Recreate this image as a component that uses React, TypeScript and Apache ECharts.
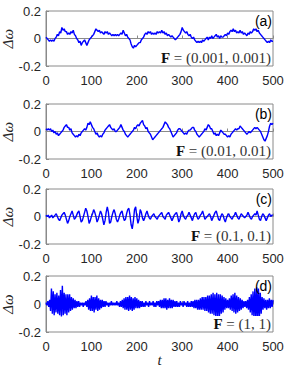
import React, { useEffect, useRef } from "react";
import * as echarts from "echarts";

// time step of the sampled traces
const STEP_ABC = 2.5;
const STEP_D = 2;

const xTicks = [0, 100, 200, 300, 400, 500];
const yTicks = [-0.2, 0, 0.2];
const panelTags = ["(a)", "(b)", "(c)", "(d)"];
const forceLabels = ["(0.001, 0.001)", "(0.01, 0.01)", "(0.1, 0.1)", "(1, 1)"];

const seriesA = [
  0.01, 0.0, -0.01, -0.02, -0.01, -0.02, -0.01, -0.02, 0.0, 0.01,
  0.03, 0.02, 0.05, 0.04, 0.08, 0.06, 0.07, 0.05, 0.05, 0.03,
  0.04, 0.03, 0.05, 0.04, 0.06, 0.03, 0.02, 0.0, -0.01, -0.03,
  -0.02, -0.05, -0.03, -0.02, -0.01, -0.03, -0.05, -0.03, -0.01, 0.0,
  0.01, 0.02, 0.03, 0.05, 0.07, 0.06, 0.05, 0.06, 0.04, 0.05,
  0.04, 0.03, 0.05, 0.04, 0.05, 0.03, 0.04, 0.03, 0.02, 0.03,
  0.02, 0.03, 0.02, 0.03, 0.02, 0.03, 0.04, 0.03, 0.06, 0.04,
  0.02, 0.03, 0.01, 0.0, -0.01, -0.04, -0.06, -0.07, -0.05, -0.06,
  -0.05, -0.04, -0.03, -0.03, -0.01, 0.0, 0.01, 0.03, 0.04, 0.03,
  0.05, 0.04, 0.05, 0.03, 0.04, 0.03, 0.04, 0.03, 0.05, 0.04,
  0.05, 0.04, 0.06, 0.04, 0.05, 0.03, 0.04, 0.02, 0.03, 0.02,
  0.01, 0.02, 0.01, 0.0, -0.01, 0.0, 0.01, 0.02, 0.03, 0.05,
  0.08, 0.06, 0.05, 0.04, 0.05, 0.03, 0.02, 0.03, 0.01, 0.0,
  0.01, -0.01, -0.02, -0.03, -0.02, -0.03, -0.02, -0.03, -0.01, -0.02,
  -0.01, 0.0, 0.01, -0.01, 0.01, 0.0, 0.02, 0.0, 0.01, 0.02,
  0.03, 0.01, 0.02, 0.0, 0.02, 0.01, 0.01, 0.02, 0.03, 0.02,
  0.04, 0.03, 0.05, 0.06, 0.05, 0.07, 0.05, 0.06, 0.04, 0.05,
  0.04, 0.06, 0.04, 0.05, 0.03, 0.04, 0.03, 0.02, 0.04, 0.03,
  0.05, 0.04, 0.05, 0.07, 0.06, 0.07, 0.05, 0.06, 0.04, 0.03,
  0.02, 0.01, 0.0, -0.01, -0.02, -0.03, -0.02, -0.03, -0.01, -0.02,
  -0.02,
];

const seriesB = [
  0.02, 0.01, 0.02, 0.01, 0.02, 0.0, 0.01, -0.01, 0.0, -0.02,
  -0.01, -0.03, -0.02, -0.01, 0.0, 0.01, 0.03, 0.04, 0.05, 0.03,
  0.03, 0.01, 0.02, -0.01, -0.02, -0.03, -0.04, -0.03, -0.04, -0.02,
  -0.03, -0.01, 0.0, 0.01, 0.02, 0.01, 0.03, 0.06, 0.05, 0.07,
  0.05, 0.03, 0.02, 0.0, -0.02, -0.01, -0.03, -0.04, -0.03, -0.04,
  -0.02, -0.01, 0.01, 0.02, 0.03, 0.04, 0.05, 0.03, 0.02, 0.01,
  0.02, 0.0, 0.0, 0.01, 0.02, 0.03, 0.05, 0.03, 0.01, 0.0,
  -0.02, -0.03, -0.04, -0.03, -0.02, -0.01, 0.0, 0.01, 0.03, 0.02,
  0.04, 0.05, 0.04, 0.06, 0.07, 0.08, 0.05, 0.04, 0.02, 0.03,
  0.0, -0.01, -0.02, -0.04, -0.06, -0.05, -0.04, -0.03, -0.02, -0.01,
  0.0, 0.01, 0.02, 0.03, 0.05, 0.07, 0.06, 0.05, 0.03, 0.02,
  0.0, -0.02, -0.04, -0.03, -0.02, -0.01, 0.01, 0.02, 0.02, 0.01,
  0.0, -0.01, -0.02, -0.01, -0.02, 0.0, 0.01, 0.01, 0.02, 0.03,
  0.03, 0.01, 0.0, -0.02, -0.03, -0.04, -0.03, -0.02, -0.01, 0.0,
  0.02, 0.01, 0.03, 0.05, 0.04, 0.02, 0.02, 0.0, -0.02, -0.01,
  -0.03, -0.02, -0.03, -0.01, 0.01, 0.0, -0.01, -0.02, -0.02, -0.03,
  -0.04, -0.03, -0.04, -0.02, -0.01, 0.0, 0.01, 0.02, 0.01, 0.02,
  0.02, 0.04, 0.03, 0.02, 0.01, 0.0, -0.01, -0.02, -0.01, 0.0,
  -0.01, 0.0, 0.01, 0.02, 0.03, 0.02, 0.03, 0.02, 0.01, 0.0,
  -0.02, -0.04, -0.06, -0.07, -0.05, -0.03, 0.0, 0.04, 0.06, 0.05,
  0.06,
];

const seriesC = [
  0.01, 0.0, 0.01, -0.01, 0.0, 0.01, -0.01, 0.0, 0.01, 0.02,
  0.0, -0.02, -0.03, -0.01, 0.01, 0.02, 0.03, 0.01, -0.02, -0.05,
  -0.03, 0.0, 0.02, 0.04, 0.01, -0.02, -0.01, 0.01, 0.03, 0.04,
  0.0, -0.04, -0.03, 0.0, 0.03, 0.06, 0.04, 0.0, -0.05, -0.03,
  0.0, 0.02, 0.05, 0.03, 0.0, -0.04, -0.02, 0.01, 0.04, 0.02,
  -0.02, -0.06, -0.03, 0.03, 0.07, 0.03, -0.05, -0.04, 0.0, 0.03,
  0.05, 0.02, -0.02, -0.04, -0.02, 0.01, 0.03, 0.04, 0.0, -0.03,
  -0.02, 0.02, 0.05, 0.06, 0.01, -0.06, -0.09, -0.03, 0.05, 0.07,
  0.0, -0.05, -0.02, 0.05, 0.03, -0.01, -0.03, -0.01, 0.02, 0.04,
  0.01, -0.01, -0.02, 0.0, 0.01, 0.02, 0.0, -0.01, -0.02, 0.0,
  0.01, 0.02, 0.03, 0.0, -0.01, -0.02, 0.01, 0.02, 0.03, 0.01,
  -0.01, -0.03, -0.01, 0.01, 0.02, 0.03, 0.0, -0.04, -0.02, 0.02,
  0.04, 0.01, -0.01, -0.02, 0.0, 0.01, 0.03, 0.01, -0.01, -0.03,
  0.0, 0.02, 0.03, 0.0, -0.02, -0.01, 0.01, 0.02, 0.04, 0.01,
  -0.02, -0.01, 0.0, 0.01, 0.02, 0.0, -0.03, -0.01, 0.01, 0.03,
  0.04, 0.01, -0.02, -0.03, 0.0, 0.02, 0.01, -0.02, -0.04, -0.01,
  0.01, 0.02, 0.0, -0.01, -0.02, 0.0, 0.01, 0.03, 0.01, -0.01,
  -0.02, 0.0, 0.02, 0.01, 0.0, -0.01, 0.0, 0.01, 0.03, 0.01,
  -0.01, -0.02, 0.0, 0.01, 0.02, 0.01, 0.04, 0.01, -0.02, -0.03,
  0.0, 0.02, 0.01, -0.01, -0.03, -0.01, 0.01, 0.02, 0.0, 0.01,
  0.01,
];

const seriesD = [
  0.01, -0.01, 0.02, -0.02, 0.03, -0.05, 0.11, -0.07, 0.09, -0.08,
  0.07, -0.06, 0.08, -0.07, 0.06, -0.08, 0.1, -0.09, 0.13, -0.08,
  0.08, -0.07, 0.07, -0.08, 0.07, -0.06, 0.07, -0.05, 0.05, -0.04,
  0.04, -0.03, 0.03, -0.03, 0.02, -0.02, 0.02, -0.02, 0.01, -0.01,
  0.01, -0.02, 0.01, -0.01, 0.02, -0.02, 0.03, -0.04, 0.04, -0.05,
  0.06, -0.05, 0.05, -0.06, 0.05, -0.04, 0.06, -0.05, 0.04, -0.04,
  0.03, -0.03, 0.03, -0.02, 0.02, -0.02, 0.02, -0.01, 0.01, -0.02,
  0.01, -0.01, 0.02, -0.01, 0.01, -0.01, 0.01, -0.01, 0.02, -0.01,
  0.01, -0.02, 0.02, -0.02, 0.03, -0.03, 0.04, -0.04, 0.05, -0.04,
  0.05, -0.05, 0.06, -0.04, 0.05, -0.05, 0.04, -0.04, 0.05, -0.03,
  0.04, -0.03, 0.03, -0.03, 0.02, -0.02, 0.02, -0.02, 0.01, -0.02,
  0.02, -0.01, 0.01, -0.02, 0.02, -0.01, 0.01, -0.01, 0.02, -0.02,
  0.01, -0.02, 0.02, -0.01, 0.02, -0.02, 0.03, -0.03, 0.03, -0.03,
  0.04, -0.03, 0.04, -0.04, 0.03, -0.03, 0.04, -0.03, 0.03, -0.03,
  0.03, -0.02, 0.02, -0.02, 0.02, -0.02, 0.01, -0.02, 0.02, -0.01,
  0.01, -0.02, 0.02, -0.01, 0.01, -0.02, 0.02, -0.02, 0.01, -0.02,
  0.02, -0.02, 0.02, -0.03, 0.03, -0.03, 0.03, -0.04, 0.03, -0.04,
  0.04, -0.04, 0.05, -0.04, 0.05, -0.05, 0.05, -0.05, 0.06, -0.06,
  0.06, -0.07, 0.07, -0.07, 0.08, -0.08, 0.07, -0.09, 0.08, -0.1,
  0.07, -0.09, 0.07, -0.07, 0.06, -0.06, 0.05, -0.04, 0.04, -0.03,
  0.03, -0.03, 0.04, -0.04, 0.06, -0.05, 0.07, -0.06, 0.08, -0.07,
  0.06, -0.06, 0.05, -0.05, 0.04, -0.04, 0.03, -0.03, 0.02, -0.02,
  0.02, -0.03, 0.03, -0.04, 0.05, -0.06, 0.07, -0.08, 0.09, -0.1,
  0.11, -0.11, 0.12, -0.12, 0.11, -0.1, 0.08, -0.07, 0.05, -0.04,
  0.04, -0.03, 0.03, -0.04, 0.03, -0.03, 0.04, -0.03, 0.03, -0.02,
  0.03,
];

const panels = [
  { values: seriesA, step: STEP_ABC },
  { values: seriesB, step: STEP_ABC },
  { values: seriesC, step: STEP_ABC },
  { values: seriesD, step: STEP_D },
];

// layout (pixels)
const GRID_LEFT = 46;
const GRID_WIDTH = 227;
const GRID_TOPS = [11, 104, 189, 276];
const GRID_HEIGHTS = [55, 55, 55, 56];

const AXIS_GRAY = "#8a8a8a";
const LABEL_COLOR = "#262626";

export default function App() {
  const ref = useRef<HTMLDivElement>(null);

  useEffect(() => {
    if (!ref.current) return;
    const chart = echarts.init(ref.current, undefined, { renderer: "svg" });

    const grids = panels.map((_, i) => ({
      left: GRID_LEFT,
      top: GRID_TOPS[i],
      width: GRID_WIDTH,
      height: GRID_HEIGHTS[i],
      show: true,
      borderColor: AXIS_GRAY,
      borderWidth: 1,
      backgroundColor: "transparent",
      containLabel: false,
      outerBoundsMode: "none",
    }));

    const xAxes = panels.map((_, i) => ({
      type: "value",
      gridIndex: i,
      min: xTicks[0],
      max: xTicks[xTicks.length - 1],
      interval: 100,
      axisLine: { show: true, lineStyle: { color: AXIS_GRAY, width: 1 } },
      axisTick: { show: true, inside: true, length: 3, lineStyle: { color: AXIS_GRAY } },
      splitLine: { show: false },
      axisLabel: {
        show: true,
        color: LABEL_COLOR,
        fontSize: 13,
        fontFamily: "Liberation Sans, Arial, sans-serif",
        margin: 8,
      },
    }));

    const yAxes = panels.map((_, i) => ({
      type: "value",
      gridIndex: i,
      min: yTicks[0],
      max: yTicks[yTicks.length - 1],
      interval: 0.2,
      name: "Δω",
      nameLocation: "middle",
      nameRotate: 90,
      nameGap: 31,
      nameMoveOverlap: false,
      nameTextStyle: {
        color: LABEL_COLOR,
        fontFamily: "Liberation Serif, serif",
        fontSize: 15,
        fontStyle: "italic",
      },
      axisLine: { show: true, lineStyle: { color: AXIS_GRAY, width: 1 } },
      axisTick: { show: true, inside: true, length: 3, lineStyle: { color: AXIS_GRAY } },
      splitLine: { show: false },
      axisLabel: {
        show: true,
        color: LABEL_COLOR,
        fontSize: 13,
        fontFamily: "Liberation Sans, Arial, sans-serif",
        margin: 5,
        formatter: (v: number) => (Math.abs(v) < 1e-9 ? "0" : String(Math.round(v * 10) / 10)),
      },
    }));

    const series = panels.map((p, i) => ({
      type: "line",
      xAxisIndex: i,
      yAxisIndex: i,
      data: p.values.map((v, k) => [k * p.step, v]),
      showSymbol: false,
      symbol: "none",
      clip: true,
      lineStyle: { color: "#0000ff", width: 1.4 },
      z: 2,
    }));

    const graphics: any[] = [];
    panels.forEach((_, i) => {
      const top = GRID_TOPS[i];
      const h = GRID_HEIGHTS[i];
      const right = GRID_LEFT + GRID_WIDTH;
      graphics.push({
        type: "text",
        x: right - 1,
        y: top + 3,
        style: {
          text: panelTags[i],
          align: "right",
          verticalAlign: "top",
          fill: "#000",
          font: "14px Liberation Sans, Arial, sans-serif",
        },
        z: 10,
      });
      graphics.push({
        type: "text",
        x: right - 1,
        y: top + h - 1,
        style: {
          text: "{f|F} = " + forceLabels[i],
          align: "right",
          verticalAlign: "bottom",
          fill: "#333",
          font: "15px Liberation Serif, serif",
          backgroundColor: "#fff",
          padding: [0, 1, 0, 2],
          rich: {
            f: { fontFamily: "Liberation Serif, serif", fontWeight: "bold", fontSize: 15, fill: "#111" },
          },
        },
        z: 10,
      });
    });
    graphics.push({
      type: "text",
      x: GRID_LEFT + GRID_WIDTH / 2,
      y: 360,
      style: {
        text: "t",
        align: "center",
        verticalAlign: "middle",
        fill: LABEL_COLOR,
        font: "italic 15px Liberation Serif, serif",
      },
      z: 10,
    });

    chart.setOption({
      animation: false,
      backgroundColor: "#fff",
      grid: grids,
      xAxis: xAxes,
      yAxis: yAxes,
      series,
      graphic: graphics,
    } as any);

    return () => chart.dispose();
  }, []);

  return (
    <div
      ref={ref}
      style={{ position: "absolute", left: 0, top: 0, width: 291, height: 370 }}
    />
  );
}
